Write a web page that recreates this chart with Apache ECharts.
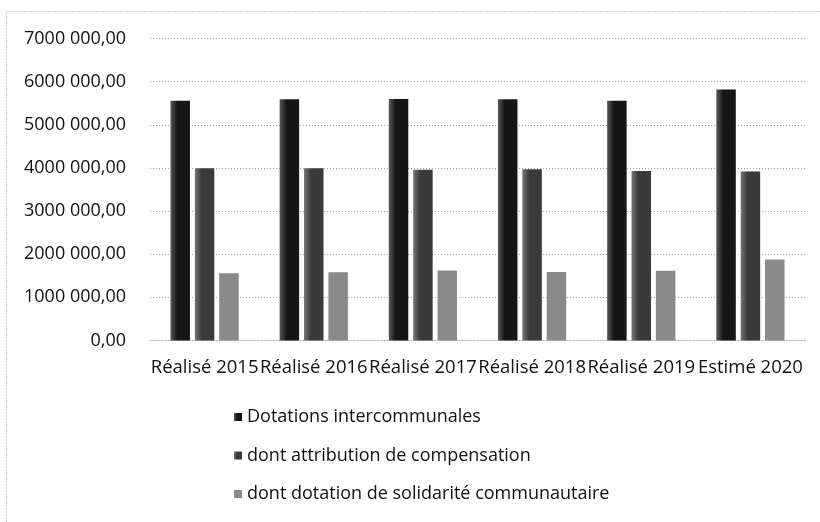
<!DOCTYPE html>
<html>
<head>
<meta charset="utf-8">
<script src="https://cdn.jsdelivr.net/npm/echarts@6/dist/echarts.min.js"></script>
<style>
  html, body { margin: 0; padding: 0; background: #fff; }
  #chart { width: 820px; height: 522px; }
</style>
</head>
<body>
<div id="chart"></div>
<script>
// Budget lines per year (euros)
const categories = ['Réalisé 2015', 'Réalisé 2016', 'Réalisé 2017', 'Réalisé 2018', 'Réalisé 2019', 'Estimé 2020'];
const seriesNames = [
  'Dotations intercommunales',
  'dont attribution de compensation',
  'dont dotation de solidarité communautaire'
];
const dotationsIntercommunales = [5560000, 5590000, 5600000, 5590000, 5560000, 5820000];
const attributionCompensation = [3995000, 3995000, 3960000, 3970000, 3930000, 3920000];
const dotationSolidarite = [1560000, 1580000, 1620000, 1590000, 1615000, 1880000];
const yTickLabels = {
  0: '0,00',
  1000000: '1000 000,00',
  2000000: '2000 000,00',
  3000000: '3000 000,00',
  4000000: '4000 000,00',
  5000000: '5000 000,00',
  6000000: '6000 000,00',
  7000000: '7000 000,00'
};

const FONT = '"Open Sans"';
const chart = echarts.init(document.getElementById('chart'), null, { renderer: 'canvas' });

function barFill(dark, light) {
  return new echarts.graphic.LinearGradient(0, 0, 1, 0, [
    { offset: 0, color: light },
    { offset: 0.35, color: dark },
    { offset: 1, color: dark }
  ]);
}

chart.setOption({
  backgroundColor: '#ffffff',
  animation: false,
  textStyle: { fontFamily: FONT },
  graphic: [{
    type: 'rect',
    shape: { x: 6.5, y: 11.5, width: 900, height: 600 },
    style: { fill: 'none', stroke: '#9a9a9a', lineWidth: 1, lineDash: [1, 2] },
    silent: true
  }],
  grid: { left: 150, right: 15, top: 38.5, bottom: 181.5 },
  legend: {
    orient: 'vertical',
    left: 229,
    top: 403,
    itemWidth: 8,
    itemHeight: 8,
    itemGap: 20.5,
    itemTextGap: 10,
    icon: 'rect',
    textStyle: { fontFamily: FONT, fontSize: 18, color: '#111' },
    data: seriesNames
  },
  xAxis: {
    type: 'category',
    data: categories,
    axisLine: { show: true, lineStyle: { color: '#a0a0a0', type: [1, 2], width: 1 } },
    axisTick: { show: false },
    axisLabel: { interval: 0, margin: 18, fontFamily: FONT, fontSize: 18.5, color: '#111' }
  },
  yAxis: {
    type: 'value',
    min: 0,
    max: 7000000,
    interval: 1000000,
    axisLine: { show: false },
    axisTick: { show: false },
    splitLine: { lineStyle: { color: '#a0a0a0', type: [1, 2], width: 1 } },
    axisLabel: {
      margin: 24,
      fontFamily: FONT,
      fontSize: 18,
      color: '#111',
      formatter: v => yTickLabels[v]
    }
  },
  series: [
    {
      name: seriesNames[0],
      type: 'bar',
      data: dotationsIntercommunales,
      barWidth: 19.5,
      barGap: '25%',
      itemStyle: { color: barFill('#161616', '#5a5a5a') }
    },
    {
      name: seriesNames[1],
      type: 'bar',
      data: attributionCompensation,
      barWidth: 19.5,
      barGap: '25%',
      itemStyle: { color: barFill('#3a3a3a', '#777777') }
    },
    {
      name: seriesNames[2],
      type: 'bar',
      data: dotationSolidarite,
      barWidth: 19.5,
      barGap: '25%',
      itemStyle: { color: '#8a8a8a' }
    }
  ]
});
</script>
</body>
</html>
